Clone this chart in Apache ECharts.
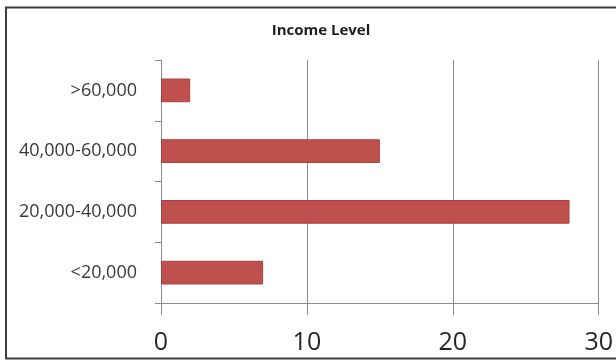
<!DOCTYPE html>
<html><head><meta charset="utf-8">
<script src="https://cdn.jsdelivr.net/npm/echarts@6/dist/echarts.min.js"></script>
<style>html,body{margin:0;padding:0;background:#fff}#c{width:616px;height:361px}</style>
</head><body><div id="c"></div>
<script>
const categories = ['<20,000', '20,000-40,000', '40,000-60,000', '>60,000'];
const values = [7, 28, 15, 2];
const xTicks = [0, 10, 20, 30];

const chart = echarts.init(document.getElementById('c'), null, {renderer: 'canvas'});
chart.setOption({
  backgroundColor: '#fff',
  animation: false,
  title: {
    text: 'Income Level', left: 316, top: 18, textAlign: 'center',
    textStyle: {fontFamily: 'Open Sans', fontSize: 15, fontWeight: 'bold', color: '#1e1e1e'}
  },
  graphic: [{
    type: 'rect', shape: {x: 6, y: 7.5, width: 640, height: 351},
    style: {fill: 'none', stroke: '#3c3c3c', lineWidth: 2}
  }],
  grid: {left: 161, right: 13, top: 60, bottom: 58},
  xAxis: {
    type: 'value', min: xTicks[0], max: xTicks[xTicks.length - 1], interval: 10,
    axisLine: {show: true, lineStyle: {color: '#8c8c8c', width: 1}},
    axisTick: {show: true, length: 12, lineStyle: {color: '#8c8c8c'}},
    splitLine: {show: true, lineStyle: {color: '#8c8c8c', width: 1}},
    axisLabel: {fontFamily: 'Open Sans', fontSize: 25, color: '#262626', margin: 27}
  },
  yAxis: {
    type: 'category', data: categories,
    axisLine: {show: true, lineStyle: {color: '#8c8c8c', width: 1}},
    axisTick: {show: true, length: 6, lineStyle: {color: '#8c8c8c'}},
    axisLabel: {fontFamily: 'Open Sans', fontSize: 18, color: '#3a3a3a', margin: 24}
  },
  series: [{
    type: 'bar', data: values, barCategoryGap: '61%',
    itemStyle: {color: '#c0504d', borderColor: '#a8403d', borderWidth: 1}
  }]
});
</script></body></html>
